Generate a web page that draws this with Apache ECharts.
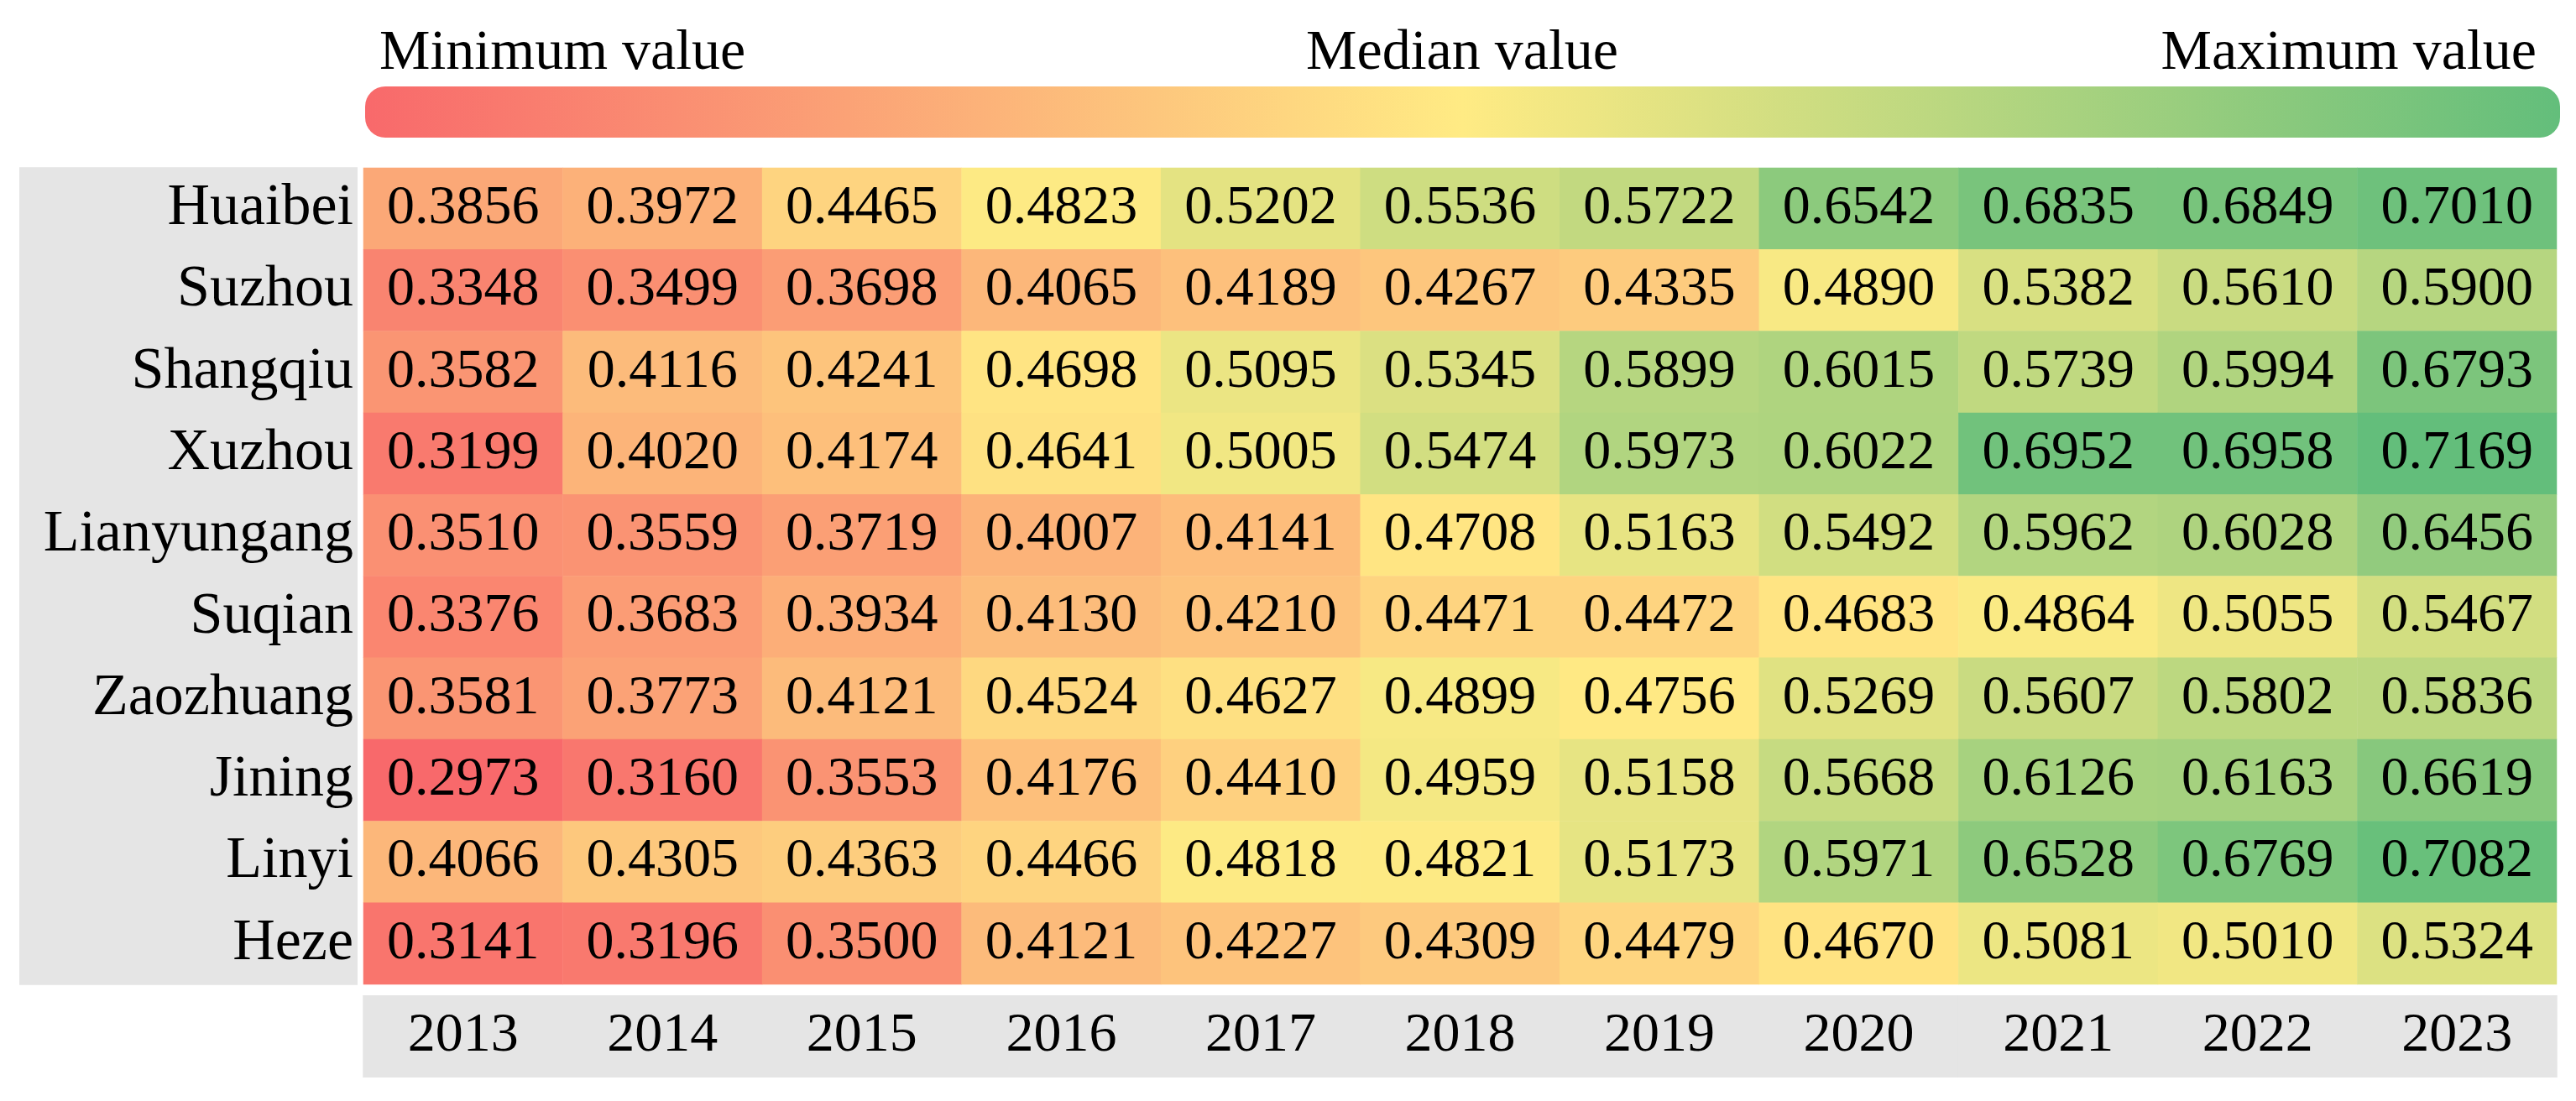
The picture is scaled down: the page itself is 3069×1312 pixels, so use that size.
<!DOCTYPE html>
<html lang="en">
<head>
	<meta charset="UTF-8">
	<title>heatmap</title>
	<script src="https://cdn.jsdelivr.net/npm/echarts@6/dist/echarts.min.js"></script>
	<style>
		html, body { margin: 0; padding: 0; background: #fff; }
		#main { width: 3069px; height: 1312px; }
	</style>
</head>
<body>
	<div id="main"></div>
	<script type="text/javascript">
		var years = ['2013', '2014', '2015', '2016', '2017', '2018', '2019', '2020', '2021', '2022', '2023'];
		var cities = ['Huaibei', 'Suzhou', 'Shangqiu', 'Xuzhou', 'Lianyungang', 'Suqian', 'Zaozhuang', 'Jining', 'Linyi', 'Heze'];

		var huaibei     = [0.3856, 0.3972, 0.4465, 0.4823, 0.5202, 0.5536, 0.5722, 0.6542, 0.6835, 0.6849, 0.7010];
		var suzhou      = [0.3348, 0.3499, 0.3698, 0.4065, 0.4189, 0.4267, 0.4335, 0.4890, 0.5382, 0.5610, 0.5900];
		var shangqiu    = [0.3582, 0.4116, 0.4241, 0.4698, 0.5095, 0.5345, 0.5899, 0.6015, 0.5739, 0.5994, 0.6793];
		var xuzhou      = [0.3199, 0.4020, 0.4174, 0.4641, 0.5005, 0.5474, 0.5973, 0.6022, 0.6952, 0.6958, 0.7169];
		var lianyungang = [0.3510, 0.3559, 0.3719, 0.4007, 0.4141, 0.4708, 0.5163, 0.5492, 0.5962, 0.6028, 0.6456];
		var suqian      = [0.3376, 0.3683, 0.3934, 0.4130, 0.4210, 0.4471, 0.4472, 0.4683, 0.4864, 0.5055, 0.5467];
		var zaozhuang   = [0.3581, 0.3773, 0.4121, 0.4524, 0.4627, 0.4899, 0.4756, 0.5269, 0.5607, 0.5802, 0.5836];
		var jining      = [0.2973, 0.3160, 0.3553, 0.4176, 0.4410, 0.4959, 0.5158, 0.5668, 0.6126, 0.6163, 0.6619];
		var linyi       = [0.4066, 0.4305, 0.4363, 0.4466, 0.4818, 0.4821, 0.5173, 0.5971, 0.6528, 0.6769, 0.7082];
		var heze        = [0.3141, 0.3196, 0.3500, 0.4121, 0.4227, 0.4309, 0.4479, 0.4670, 0.5081, 0.5010, 0.5324];

		var rows = [huaibei, suzhou, shangqiu, xuzhou, lianyungang, suqian, zaozhuang, jining, linyi, heze];

		// build heatmap cells [x, y, value]
		var cells = [];
		var all = [];
		rows.forEach(function (row, y) {
			row.forEach(function (v, x) {
				cells.push([x, y, v]);
				all.push(v);
			});
		});

		// 3-colour scale: min red, median yellow, max green
		var sorted = all.slice().sort(function (a, b) { return a - b; });
		var vMin = sorted[0];
		var vMax = sorted[sorted.length - 1];
		var n = sorted.length;
		var vMid = n % 2 ? sorted[(n - 1) / 2] : (sorted[n / 2 - 1] + sorted[n / 2]) / 2;

		var RED = [248, 105, 107], YELLOW = [255, 235, 132], GREEN = [99, 190, 123];
		function lerp(a, b, t) {
			return 'rgb(' + a.map(function (c, i) { return Math.round(c + (b[i] - c) * t); }).join(',') + ')';
		}
		function scaleColor(v) {
			if (v <= vMid) return lerp(RED, YELLOW, (v - vMin) / (vMid - vMin));
			return lerp(YELLOW, GREEN, (v - vMid) / (vMax - vMid));
		}
		var ramp = [];
		for (var i = 0; i <= 200; i++) {
			ramp.push(scaleColor(vMin + (vMax - vMin) * i / 200));
		}

		var FONT = '"Liberation Serif", "Times New Roman", serif';
		var GRAY = '#e5e5e5';

		var myChart = echarts.init(document.getElementById('main'));

		var option = {
			backgroundColor: '#fff',
			animation: false,
			grid: { left: 433, right: 23, top: 200, bottom: 139 },
			xAxis: {
				type: 'category',
				data: years,
				position: 'bottom',
				axisLine: { show: false },
				axisTick: { show: false },
				splitLine: { show: false },
				axisLabel: {
					interval: 0,
					margin: 13,
					fontFamily: FONT,
					fontSize: 66,
					color: '#000',
					backgroundColor: GRAY,
					width: 239,
					height: 98,
					lineHeight: 98,
					align: 'center'
				}
			},
			yAxis: {
				type: 'category',
				data: cities,
				inverse: true,
				axisLine: { show: false },
				axisTick: { show: false },
				splitLine: { show: false },
				axisLabel: {
					interval: 0,
					margin: 7,
					fontFamily: FONT,
					fontSize: 70,
					color: '#000',
					backgroundColor: GRAY,
					width: 398,
					height: 99,
					lineHeight: 99,
					padding: [0, 5, 0, 0],
					align: 'right'
				}
			},
			visualMap: {
				show: false,
				type: 'continuous',
				min: vMin,
				max: vMax,
				dimension: 2,
				inRange: { color: ramp }
			},
			graphic: [
				{
					type: 'rect',
					shape: { x: 435, y: 103, width: 2615, height: 61, r: 24 },
					style: {
						fill: new echarts.graphic.LinearGradient(0, 0, 1, 0, [
							{ offset: 0, color: 'rgb(248,105,107)' },
							{ offset: 0.5, color: 'rgb(255,235,132)' },
							{ offset: 1, color: 'rgb(99,190,123)' }
						])
					}
				},
				{
					type: 'text', left: 452, top: 30,
					style: { text: 'Minimum value', font: '68px ' + FONT, fill: '#000' }
				},
				{
					type: 'text', x: 1742, y: 30,
					style: { text: 'Median value', font: '68px ' + FONT, fill: '#000', textAlign: 'center' }
				},
				{
					type: 'text', x: 3022, y: 30,
					style: { text: 'Maximum value', font: '68px ' + FONT, fill: '#000', textAlign: 'right' }
				}
			],
			series: [{
				type: 'heatmap',
				data: cells,
				label: {
					show: true,
					fontFamily: FONT,
					fontSize: 66,
					color: '#000',
					formatter: function (p) { return p.value[2].toFixed(4); }
				},
				emphasis: { disabled: true }
			}]
		};

		myChart.setOption(option);
	</script>
</body>
</html>
